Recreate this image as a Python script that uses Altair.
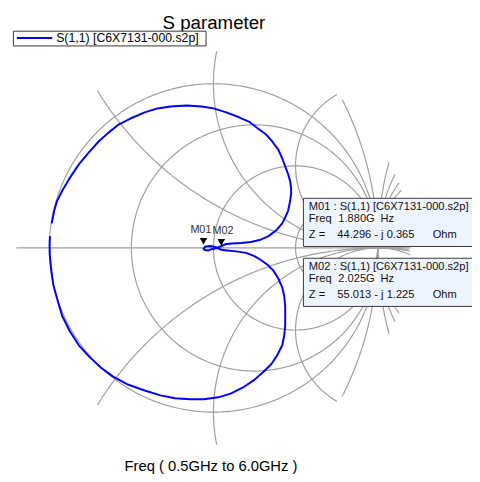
import numpy as np
import pandas as pd
import altair as alt

# ---------------- data ----------------
# S(1,1) trace as reflection coefficient (real, imaginary), 0.5 GHz -> 6.0 GHz
gamma_re = [-0.985, -0.970, -0.952, -0.922, -0.880, -0.820, -0.760, -0.701, -0.641, -0.581,
            -0.503, -0.419, -0.341, -0.263, -0.162, -0.072, 0.000, 0.078, 0.156, 0.222,
            0.275, 0.323, 0.359, 0.395, 0.419, 0.437, 0.455, 0.467, 0.473, 0.473,
            0.467, 0.455, 0.437, 0.419, 0.383, 0.335, 0.281, 0.228, 0.168, 0.114,
            0.078, 0.042, 0.024, -0.006, -0.030, -0.054, -0.0605, -0.048, -0.018, 0.012,
            0.030, 0.0479, 0.084, 0.138, 0.198, 0.246, 0.287, 0.329, 0.365, 0.395,
            0.419, 0.431, 0.437, 0.437, 0.437, 0.431, 0.419, 0.389, 0.353, 0.305,
            0.251, 0.180, 0.108, 0.030, -0.060, -0.144, -0.234, -0.323, -0.419, -0.521,
            -0.611, -0.683, -0.754, -0.820, -0.874, -0.922, -0.952, -0.976, -0.988, -0.997,
            -0.998, -0.996]
gamma_im = [0.150, 0.228, 0.287, 0.347, 0.419, 0.509, 0.581, 0.647, 0.701, 0.749,
            0.790, 0.826, 0.850, 0.862, 0.868, 0.862, 0.850, 0.826, 0.796, 0.766,
            0.725, 0.689, 0.647, 0.599, 0.545, 0.497, 0.449, 0.407, 0.365, 0.329,
            0.287, 0.228, 0.186, 0.150, 0.108, 0.072, 0.048, 0.036, 0.030, 0.027,
            0.024, 0.009, 0.000, -0.006, -0.015, -0.012, -0.0041, 0.009, 0.012, 0.006,
            -0.003, -0.0111, -0.015, -0.021, -0.030, -0.048, -0.072, -0.102, -0.138, -0.186,
            -0.240, -0.293, -0.353, -0.413, -0.473, -0.533, -0.593, -0.653, -0.707, -0.754,
            -0.802, -0.850, -0.886, -0.910, -0.922, -0.922, -0.916, -0.898, -0.868, -0.832,
            -0.784, -0.731, -0.665, -0.593, -0.509, -0.413, -0.311, -0.222, -0.132, -0.042,
            0.018, 0.072]

marker_names = ["M01", "M02"]
marker_freq_ghz = [1.880, 2.025]
marker_r_ohm = [44.296, 55.013]
marker_x_ohm = [-0.365, -1.225]
Z0 = 50.0

# Smith chart grid values
r_circles = [0.0, 1.0 / 3.0, 1.0, 3.0]
x_arcs = [0.5, 1.0, 2.0, -0.5, -1.0, -2.0]
neg_r_circles = [-0.5, -1.5, -2.0, -2.5, -3.0]
R_CLIP = 1.2

series_label = "S(1,1) [C6X7131-000.s2p]"

# ---------------- layout ----------------
W, H = 472, 474
CX, CY, RAD = 217.0 - 8, 248.0 - 8, 167.0   # plot-area pixel of gamma = 0 and unit radius
xmin, xmax = (0 - CX) / RAD, (W - CX) / RAD
ymin, ymax = (CY - H) / RAD, (CY - 0) / RAD

# ---------------- grid geometry ----------------
rows = []
seg_counter = [0]


def flush(xs, ys, run):
    sid = seg_counter[0]
    seg_counter[0] += 1
    for k, i in enumerate(run):
        rows.append({"seg": sid, "ord": k, "gx": float(xs[i]), "gy": float(ys[i])})


def add_circle(cx, cy, rad):
    phi0 = np.arctan2(cy, cx) if (cx != 0 or cy != 0) else 0.0
    t = phi0 + np.linspace(0, 2 * np.pi, 901)
    xs = cx + rad * np.cos(t)
    ys = cy + rad * np.sin(t)
    inside = np.hypot(xs, ys) <= R_CLIP + 1e-9
    run = []
    for i in range(len(t)):
        if inside[i]:
            run.append(i)
        else:
            if len(run) > 1:
                flush(xs, ys, run)
            run = []
    if len(run) > 1:
        flush(xs, ys, run)


for r in r_circles:
    add_circle(r / (r + 1), 0.0, 1.0 / (r + 1))
for x in x_arcs:
    add_circle(1.0, 1.0 / x, abs(1.0 / x))
for r in neg_r_circles:
    add_circle(r / (r + 1), 0.0, abs(1.0 / (r + 1)))
sid = seg_counter[0]
rows.append({"seg": sid, "ord": 0, "gx": -R_CLIP, "gy": 0.0})
rows.append({"seg": sid, "ord": 1, "gx": R_CLIP, "gy": 0.0})
grid_df = pd.DataFrame(rows)

trace_df = pd.DataFrame({"gx": gamma_re, "gy": gamma_im, "ord": list(range(len(gamma_re)))})

mk_g = [((complex(r, x) - Z0) / (complex(r, x) + Z0)) for r, x in zip(marker_r_ohm, marker_x_ohm)]
marker_df = pd.DataFrame({"name": marker_names, "gx": [g.real for g in mk_g], "gy": [g.imag for g in mk_g]})

X = alt.X("gx:Q", scale=alt.Scale(domain=[xmin, xmax], nice=False, zero=False), axis=None)
Y = alt.Y("gy:Q", scale=alt.Scale(domain=[ymin, ymax], nice=False, zero=False), axis=None)

FONT = "Liberation Sans"
one = pd.DataFrame({"k": [0]})

grid = alt.Chart(grid_df).mark_line(color="#a0a0a0", strokeWidth=1.2).encode(
    X, Y, detail="seg:N", order="ord:Q")
trace = alt.Chart(trace_df).mark_line(color="#0000ff", strokeWidth=2, strokeJoin="round").encode(
    X, Y, order="ord:Q")
tri = alt.Chart(marker_df).mark_point(shape="triangle-down", filled=True, color="black",
                                      size=60, opacity=1, yOffset=-7.5).encode(X, Y)
mlab1 = alt.Chart(marker_df).transform_filter(alt.datum.name == marker_names[0]).mark_text(
    font=FONT, fontSize=11, color="#3a2e2e", dy=-16, dx=8, baseline="alphabetic", align="right"
).encode(X, Y, text="name:N")
mlab2 = alt.Chart(marker_df).transform_filter(alt.datum.name == marker_names[1]).mark_text(
    font=FONT, fontSize=11, color="#3a2e2e", dy=-16, dx=-9, baseline="alphabetic", align="left"
).encode(X, Y, text="name:N")


def txt(s, x, y, size, align="left", color="#111111"):
    return alt.Chart(one).mark_text(text=s, font=FONT, fontSize=size, align=align,
                                    baseline="alphabetic", color=color).encode(
        x=alt.value(x), y=alt.value(y))


def rect(x, x2, y, y2, fill, stroke=None):
    kw = dict(fill=fill)
    if stroke:
        kw.update(stroke=stroke, strokeWidth=1)
    else:
        kw.update(strokeWidth=0)
    return alt.Chart(one).mark_rect(**kw).encode(
        x=alt.value(x), x2=alt.value(x2), y=alt.value(y), y2=alt.value(y2))


layers = [grid, trace, tri, mlab1, mlab2]

# title, legend, bottom caption
layers.append(txt("S parameter", 209.5, 17, 19, align="center", color="#000000"))
layers.append(rect(5.5, 201.5, 19.5, 34.5, "white", "#333333"))
layers.append(alt.Chart(one).mark_rule(color="#0000ff", strokeWidth=2).encode(
    x=alt.value(9), x2=alt.value(45), y=alt.value(26.5)))
layers.append(txt(series_label, 49, 31, 12.5, color="#000000"))
layers.append(txt("Freq ( 0.5GHz to 6.0GHz )", 206.5, 467, 15, align="center", color="#000000"))

# marker readout boxes
box_tops = [189.5, 250.5]
for name, f, r, x, top in zip(marker_names, marker_freq_ghz, marker_r_ohm, marker_x_ohm, box_tops):
    sign = "-" if x < 0 else "+"
    layers.append(rect(300.5, 476, top, top + 49, "#edf4fd", "#3a3a3a"))
    layers.append(rect(334, 377, top + 15, top + 26, "white"))
    layers.append(txt(f"{name} : S(1,1) [C6X7131-000.s2p]", 306, top + 12, 11.3))
    layers.append(txt("Freq", 306, top + 24, 11.3))
    layers.append(txt(f"{f:.3f}G", 336, top + 24, 11.3))
    layers.append(txt("Hz", 379, top + 24, 11.3))
    layers.append(txt("Z =", 306, top + 40, 11.3))
    layers.append(txt(f"{r:.3f} {sign} j {abs(x):.3f}", 335, top + 40, 11.3))
    layers.append(txt("Ohm", 432, top + 40, 11.3))

chart = alt.layer(*layers).properties(
    width=W, height=H, padding=0,
    autosize=alt.AutoSizeParams(type="none"),
    background="white",
).configure_view(stroke=None)

chart.save("out.html", embed_options={"renderer": "svg", "actions": False})
